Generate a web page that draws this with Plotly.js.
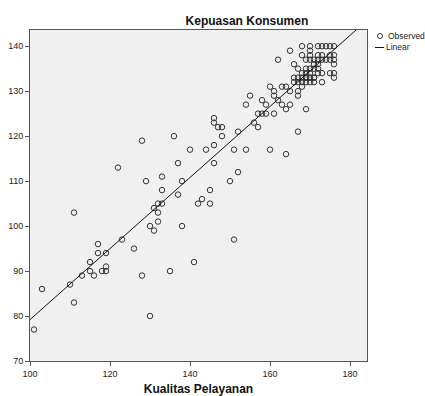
<!DOCTYPE html>
<html>
<head>
<meta charset="utf-8">
<script src="https://cdn.plot.ly/plotly-3.0.1.min.js"></script>
<style>html,body{margin:0;padding:0;background:#fff;}#chart{width:425px;height:396px;}</style>
</head>
<body>
<div id="chart"></div>
<script>
// Kualitas Pelayanan (x) and Kepuasan Konsumen (y), observed values
const kualitasPelayanan = [
  101,103,110,111,111,113,115,115,116,117,117,118,119,119,119,122,123,126,128,128,
  129,130,130,131,131,132,132,132,133,133,133,135,136,137,137,138,138,140,141,142,
  143,144,145,145,146,146,146,146,147,148,148,150,151,151,152,152,154,154,155,156,
  157,157,158,159,158,159,160,160,161,161,161,162,162,163,164,165,163,165,164,164,
  166,167,166,167,167,167,169,165,
  168,170,172,173,174,175,176,
  170,
  168,170,172,173,175,176,
  169,170,171,172,173,174,175,176,
  171,172,176,
  169,170,171,
  173,175,176,
  169,170,171,176,
  168,169,170,171,173,
  168,167,
  166,167,168,168,169,169,170,170,171,172,172
];
const kepuasanKonsumen = [
  77,86,87,83,103,89,92,90,89,96,94,90,90,91,94,113,97,95,89,119,
  110,100,80,99,104,101,103,105,105,108,111,90,120,114,107,110,100,117,92,105,
  106,117,108,105,124,123,118,114,122,122,120,110,117,97,121,112,117,127,129,123,
  122,125,125,125,128,127,131,117,130,129,125,137,128,131,131,130,127,127,126,116,
  136,135,133,132,129,121,126,139,
  140,140,140,140,140,140,140,
  139,
  138,138,138,138,138,138,
  137,137,137,137,137,137,137,137,
  136,136,136,
  135,135,135,
  134,134,134,
  133,133,133,133,
  132,132,132,132,132,
  131,130,
  132,133,133,134,133,134,134,133,133,134,135
];
// Linear fit: y = intercept + slope * x
const fitIntercept = 0.2;
const fitSlope = 0.79;
const fitX = [100, 185];
const fitY = fitX.map(x => fitIntercept + fitSlope * x);

const xTicks = [100, 120, 140, 160, 180];
const yTicks = [70, 80, 90, 100, 110, 120, 130, 140];
const legendLabels = ["Observed", "Linear"];

const FONT = "Liberation Sans, Arial, sans-serif";

const traces = [
  {
    type: "scatter", mode: "markers",
    x: kualitasPelayanan, y: kepuasanKonsumen,
    marker: {symbol: "circle-open", size: 5.5, color: "#333", line: {width: 1, color: "#333"}},
    hoverinfo: "x+y", showlegend: false
  },
  {
    type: "scatter", mode: "lines",
    x: fitX, y: fitY,
    line: {color: "#111", width: 1},
    showlegend: false
  }
];

const axisCommon = {
  showgrid: false, zeroline: false,
  showline: true, mirror: true, linecolor: "#555", linewidth: 1,
  ticks: "outside", ticklen: 4, tickcolor: "#555", tickwidth: 1,
  tickfont: {family: FONT, size: 9, color: "#222"},
  fixedrange: true
};

const layout = {
  width: 425, height: 396,
  margin: {l: 30, r: 58, t: 30, b: 35, autoexpand: false},
  paper_bgcolor: "#ffffff",
  plot_bgcolor: "#f0f0f0",
  title: {
    text: "<b>Kepuasan Konsumen</b>",
    font: {family: FONT, size: 12, color: "#111"},
    xref: "container", yref: "container",
    x: 0.581, xanchor: "center", y: 0.947, yanchor: "middle"
  },
  xaxis: Object.assign({}, axisCommon, {
    range: [100, 184.25],
    tickvals: xTicks, ticktext: xTicks.map(String),
    title: {text: "<b>Kualitas Pelayanan</b>", font: {family: FONT, size: 12, color: "#111"}, standoff: 13}
  }),
  yaxis: Object.assign({}, axisCommon, {
    range: [70, 143.6],
    tickvals: yTicks, ticktext: yTicks.map(String)
  }),
  showlegend: false,
  shapes: [
    {type: "circle", xref: "paper", yref: "paper", xsizemode: "pixel", ysizemode: "pixel",
     xanchor: (380-30)/337, yanchor: (361-36)/331, x0: -2.5, x1: 2.5, y0: -2.5, y1: 2.5,
     line: {color: "#333", width: 1}},
    {type: "line", xref: "paper", yref: "paper",
     x0: (375-30)/337, x1: (384-30)/337, y0: (361-47.5)/331, y1: (361-47.5)/331,
     line: {color: "#111", width: 1}}
  ],
  annotations: [
    {text: legendLabels[0], xref: "paper", yref: "paper", x: (386-30)/337, y: (361-36)/331,
     xanchor: "left", yanchor: "middle", showarrow: false, font: {family: FONT, size: 8.5, color: "#222"}},
    {text: legendLabels[1], xref: "paper", yref: "paper", x: (384-30)/337, y: (361-47.5)/331,
     xanchor: "left", yanchor: "middle", showarrow: false, font: {family: FONT, size: 8.5, color: "#222"}}
  ]
};

Plotly.newPlot("chart", traces, layout, {staticPlot: true, displayModeBar: false});
</script>
</body>
</html>
